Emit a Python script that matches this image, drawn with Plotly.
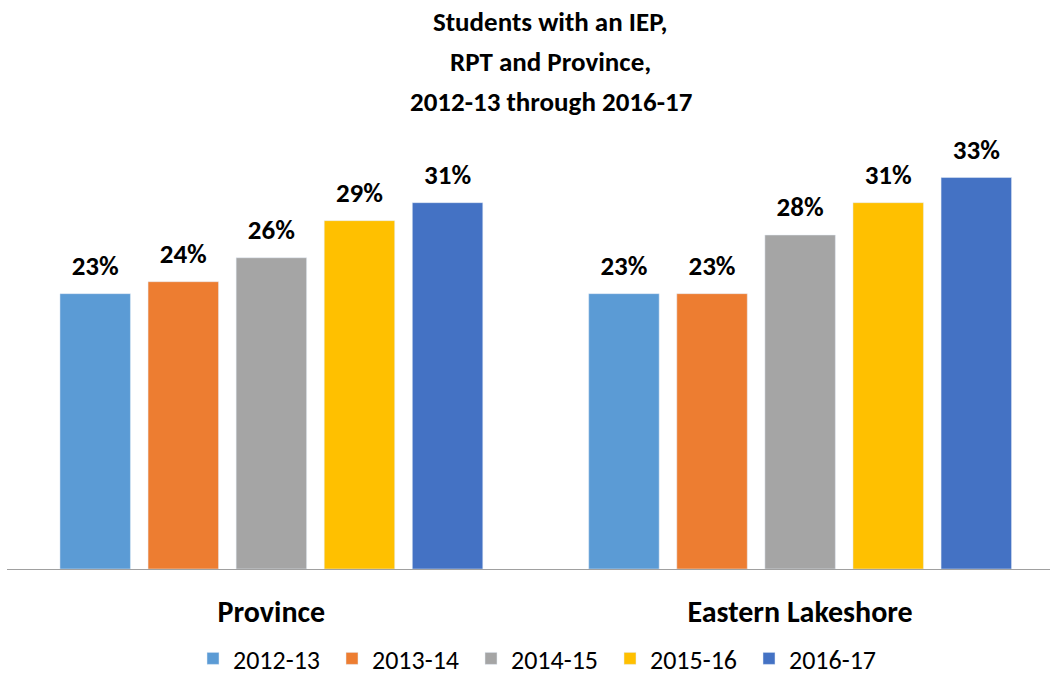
import plotly.graph_objects as go

categories = ["Province", "Eastern Lakeshore"]
series_names = ["2012-13", "2013-14", "2014-15", "2015-16", "2016-17"]
values = {
    "2012-13": [0.230, 0.230],
    "2013-14": [0.240, 0.230],
    "2014-15": [0.260, 0.279],
    "2015-16": [0.291, 0.306],
    "2016-17": [0.306, 0.327],
}
colors = ["#5B9BD5", "#ED7D31", "#A5A5A5", "#FFC000", "#4472C4"]
title_lines = ["Students with an IEP,", "RPT and Province,", "2012-13 through 2016-17"]

FONT = "Calibri, Carlito, Lato, sans-serif"
W, H = 1050, 682
ML, MR, MT, MB = 7.3, 0, 150.3, 112.7
GAP = 0.167

fig = go.Figure()
for name, col in zip(series_names, colors):
    fig.add_trace(go.Bar(
        x=categories, y=values[name], name=name, marker_color=col,
        offsetgroup=name, hoverinfo="skip",
    ))
for name, col in zip(series_names, colors):
    fig.add_trace(go.Scatter(
        x=categories, y=values[name], mode="markers+text", offsetgroup=name,
        marker=dict(size=18, opacity=0), texttemplate="%{y:.0%}",
        textposition="top center", cliponaxis=False,
        textfont=dict(family=FONT, size=27, color="#000000", weight="bold"),
        showlegend=False, hoverinfo="skip",
    ))

plot_w = W - ML - MR
fig.update_layout(
    width=W, height=H,
    margin=dict(l=ML, r=MR, t=MT, b=MB, pad=0),
    barmode="group", bargap=GAP, bargroupgap=0.2,
    scattermode="group", scattergap=GAP,
    plot_bgcolor="white", paper_bgcolor="white",
    font=dict(family=FONT, color="#000000"),
    xaxis=dict(
        range=[-0.5, -0.5 + plot_w / 528.6], showline=True, linecolor="#A0A0A0",
        linewidth=1.3, showgrid=False, ticks="", ticklabelstandoff=16,
        tickfont=dict(family=FONT, size=30, color="#000000", weight="bold"),
        fixedrange=True,
    ),
    yaxis=dict(range=[0, 0.35], visible=False, showgrid=False, fixedrange=True),
    showlegend=True,
    legend=dict(
        orientation="h", xref="container", yref="container",
        x=193 / W, xanchor="left", y=-4 / H, yanchor="bottom",
        font=dict(family=FONT, size=26, color="#000000"),
        entrywidth=94, entrywidthmode="pixels", traceorder="normal",
    ),
)

title_centers_px = [22, 62, 102]
for line, ypx in zip(title_lines, title_centers_px):
    fig.add_annotation(
        text=line, xref="paper", yref="paper",
        x=(551 - ML) / plot_w, y=1 + (MT - ypx) / (H - MT - MB),
        xanchor="center", yanchor="middle", showarrow=False,
        font=dict(family=FONT, size=27, color="#000000", weight="bold"),
    )

fig.write_html(
    "out.html",
    config={"displayModeBar": False, "staticPlot": True},
    post_script="document.body.style.margin='0';document.body.style.overflow='hidden';",
)
